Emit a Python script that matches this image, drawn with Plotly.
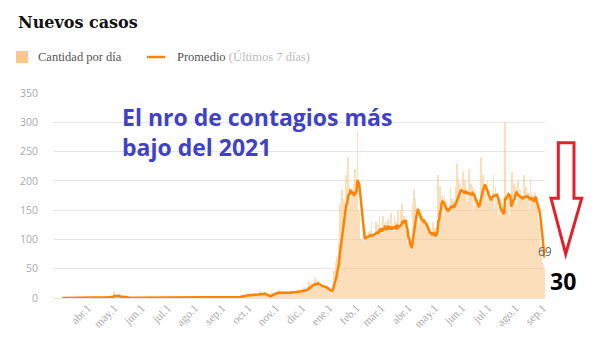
import plotly.graph_objects as go
import pandas as pd

# ---------------- data ----------------
start_date = "2020-03-03"
daily_cases = [
    0, 0, 1, 0, 0, 0, 1,
    0, 1, 0, 0, 0, 1, 0,
    0, 0, 1, 0, 1, 0, 1,
    1, 0, 0, 1, 0, 0, 1,
    0, 1, 0, 1, 0, 1, 1,
    1, 0, 1, 0, 1, 1, 1,
    1, 0, 1, 1, 0, 1, 2,
    1, 2, 1, 1, 2, 2, 2,
    2, 3, 2, 12, 3, 2, 2,
    3, 2, 3, 2, 3, 2, 2,
    1, 1, 0, 1, 1, 0, 1,
    0, 1, 1, 0, 1, 0, 1,
    1, 0, 1, 0, 1, 1, 1,
    1, 1, 0, 1, 1, 0, 2,
    1, 0, 1, 2, 1, 1, 0,
    1, 2, 0, 1, 1, 1, 1,
    2, 1, 1, 0, 2, 1, 1,
    1, 1, 0, 1, 1, 2, 0,
    0, 1, 1, 0, 1, 1, 1,
    1, 0, 1, 0, 0, 1, 1,
    1, 1, 0, 1, 1, 1, 1,
    1, 0, 2, 1, 1, 1, 1,
    2, 1, 1, 0, 1, 1, 2,
    0, 1, 1, 1, 2, 1, 0,
    1, 2, 1, 1, 2, 1, 1,
    2, 1, 1, 0, 1, 2, 1,
    1, 1, 0, 2, 1, 1, 1,
    1, 2, 1, 0, 2, 1, 2,
    2, 1, 3, 1, 2, 1, 2,
    3, 5, 2, 6, 4, 3, 5,
    4, 7, 3, 5, 6, 4, 6,
    5, 8, 4, 7, 6, 5, 7,
    7, 12, 6, 9, 8, 6, 9,
    3, 2, 4, 1, 3, 5, 3,
    6, 10, 5, 9, 7, 11, 8,
    9, 14, 6, 8, 11, 7, 8,
    8, 12, 7, 10, 9, 6, 11,
    11, 8, 13, 9, 10, 12, 7,
    12, 9, 14, 10, 13, 8, 11,
    15, 11, 18, 13, 16, 12, 13,
    20, 28, 17, 25, 19, 23, 22,
    26, 35, 18, 22, 30, 16, 21,
    17, 24, 15, 22, 19, 16, 20,
    13, 9, 16, 10, 14, 11, 11,
    25, 48, 38, 62, 55, 70, 52,
    95, 160, 120, 185, 140, 170, 110,
    165, 210, 150, 240, 190, 175, 155,
    160, 175, 170, 195, 220, 180, 185,
    285, 150, 145, 95, 100, 90, 105,
    110, 95, 120, 100, 105, 98, 112,
    115, 90, 130, 95, 110, 105, 111,
    130, 100, 125, 95, 140, 120, 109,
    105, 140, 110, 125, 130, 95, 128,
    135, 100, 120, 145, 95, 125, 113,
    140, 110, 130, 105, 150, 100, 119,
    150, 120, 160, 115, 140, 125, 121,
    70, 90, 60, 110, 75, 95, 95,
    160, 185, 130, 170, 140, 155, 124,
    120, 145, 110, 150, 125, 140, 134,
    95, 125, 100, 130, 105, 115, 100,
    110, 90, 130, 100, 120, 95, 111,
    150, 210, 145, 190, 160, 175, 125,
    140, 175, 130, 165, 155, 145, 140,
    160, 190, 135, 170, 145, 165, 134,
    190, 230, 160, 205, 175, 195, 140,
    175, 215, 160, 200, 185, 170, 155,
    165, 220, 150, 195, 180, 190, 146,
    150, 185, 130, 170, 160, 155, 156,
    200, 240, 170, 210, 185, 195, 137,
    165, 200, 150, 185, 170, 160, 167,
    180, 210, 150, 190, 165, 170, 139,
    130, 160, 120, 170, 140, 155, 140,
    300, 160, 150, 175, 160, 140, 133,
    175, 215, 160, 195, 170, 190, 155,
    160, 200, 150, 185, 165, 175, 155,
    170, 210, 150, 190, 160, 180, 137,
    150, 205, 180, 160, 175, 140, 180,
    170, 160, 150, 130, 120, 90, 76,
    62, 55, 50, 30,
]
tick_dates = ["2020-04-01", "2020-05-01", "2020-06-01", "2020-07-01", "2020-08-01",
              "2020-09-01", "2020-10-01", "2020-11-01", "2020-12-01", "2021-01-01",
              "2021-02-01", "2021-03-01", "2021-04-01", "2021-05-01", "2021-06-01",
              "2021-07-01", "2021-08-01", "2021-09-01"]
tick_labels = ["abr.1", "may.1", "jun.1", "jul.1", "ago.1", "sep.1", "oct.1", "nov.1",
               "dic.1", "ene.1", "feb.1", "mar.1", "abr.1", "may.1", "jun.1", "jul.1",
               "ago.1", "sep.1"]
y_ticks = [0, 50, 100, 150, 200, 250, 300, 350]

dates = pd.date_range(start_date, periods=len(daily_cases), freq="D")
avg7 = pd.Series(daily_cases).rolling(7, min_periods=1).mean()

# ---------------- layout helpers ----------------
W, H = 597, 352
ML, MR, MT, MB = 53, 52, 93, 54
PW, PH = W - ML - MR, H - MT - MB


def px(x):
    return (x - ML) / PW


def py(y):
    return (H - MB - y) / PH


BAR_COLOR = "#fdc88a"
LINE_COLOR = "#ff8200"

fig = go.Figure()
fig.add_trace(go.Bar(x=dates, y=daily_cases, marker=dict(color=BAR_COLOR, line=dict(width=0)),
                     opacity=0.58, name="Cantidad por día", hoverinfo="skip"))
fig.add_trace(go.Scatter(x=dates, y=avg7, mode="lines", line=dict(color=LINE_COLOR, width=2.5),
                         name="Promedio", hoverinfo="skip"))

annotations = [
    dict(x=px(16), y=py(23), xref="paper", yref="paper", xanchor="left", yanchor="middle",
         text="<b>Nuevos casos</b>", showarrow=False,
         font=dict(family="DejaVu Serif", size=16, color="#111111")),
    dict(x=px(36), y=py(57), xref="paper", yref="paper", xanchor="left", yanchor="middle",
         text="Cantidad por día", showarrow=False,
         font=dict(family="Liberation Serif", size=12.5, color="#555555")),
    dict(x=px(175), y=py(57), xref="paper", yref="paper", xanchor="left", yanchor="middle",
         text="Promedio <span style='color:#bbbbbb'>(Últimos 7 días)</span>", showarrow=False,
         font=dict(family="Liberation Serif", size=12.5, color="#555555")),
    dict(x=px(120), y=py(132), xref="paper", yref="paper", xanchor="left", yanchor="middle",
         align="left", text="<b>El nro de contagios más<br>bajo del 2021</b>", showarrow=False,
         font=dict(family="Open Sans", size=23, color="#3f42c9")),
    dict(x=dates[-1], y=float(avg7.iloc[-1]), xref="x", yref="y", xanchor="center",
         yanchor="middle", yshift=6, text=f"{round(avg7.iloc[-1])}", showarrow=False,
         font=dict(family="Open Sans", size=12, color="#666666")),
    dict(x=px(563), y=py(281), xref="paper", yref="paper", xanchor="center", yanchor="middle",
         text=f"<b>{daily_cases[-1]}</b>", showarrow=False,
         font=dict(family="Open Sans", size=23, color="#000000")),
]

arrow_pts = [(558.3, 142.7), (574, 142.7), (574, 198.3), (581.7, 198.3), (565.7, 254),
             (551, 198.3), (558.3, 198.3)]
arrow_path = "M " + " L ".join(f"{px(a):.5f},{py(b):.5f}" for a, b in arrow_pts) + " Z"

shapes = [
    dict(type="rect", xref="paper", yref="paper", x0=px(16), x1=px(28), y0=py(63), y1=py(51),
         fillcolor=BAR_COLOR, line=dict(width=0)),
    dict(type="line", xref="paper", yref="paper", x0=px(147), x1=px(165), y0=py(57), y1=py(57),
         line=dict(color=LINE_COLOR, width=2.5)),
    dict(type="path", xref="paper", yref="paper", path=arrow_path,
         line=dict(color="#e3202a", width=3), fillcolor="rgba(0,0,0,0)"),
]

fig.update_layout(
    width=W, height=H,
    margin=dict(l=ML, r=MR, t=MT, b=MB, pad=0),
    paper_bgcolor="white", plot_bgcolor="white",
    showlegend=False, bargap=0.15,
    annotations=annotations, shapes=shapes,
    xaxis=dict(range=["2020-02-21 08:00", "2021-09-03 12:00"], tickvals=tick_dates,
               ticktext=tick_labels, tickangle=-45, showgrid=False, zeroline=False,
               ticks="", showline=False,
               tickfont=dict(family="Liberation Serif", size=11.5, color="#aaaaaa")),
    yaxis=dict(range=[0, 350], tickvals=y_ticks, showgrid=True, gridcolor="#e6e6e6",
               gridwidth=1, zeroline=True, zerolinecolor="#e6e6e6", zerolinewidth=1,
               ticks="", ticklabelstandoff=14,
               tickfont=dict(family="Open Sans", size=10.5, color="#aaaaaa")),
)

fig.write_html("out.html")
